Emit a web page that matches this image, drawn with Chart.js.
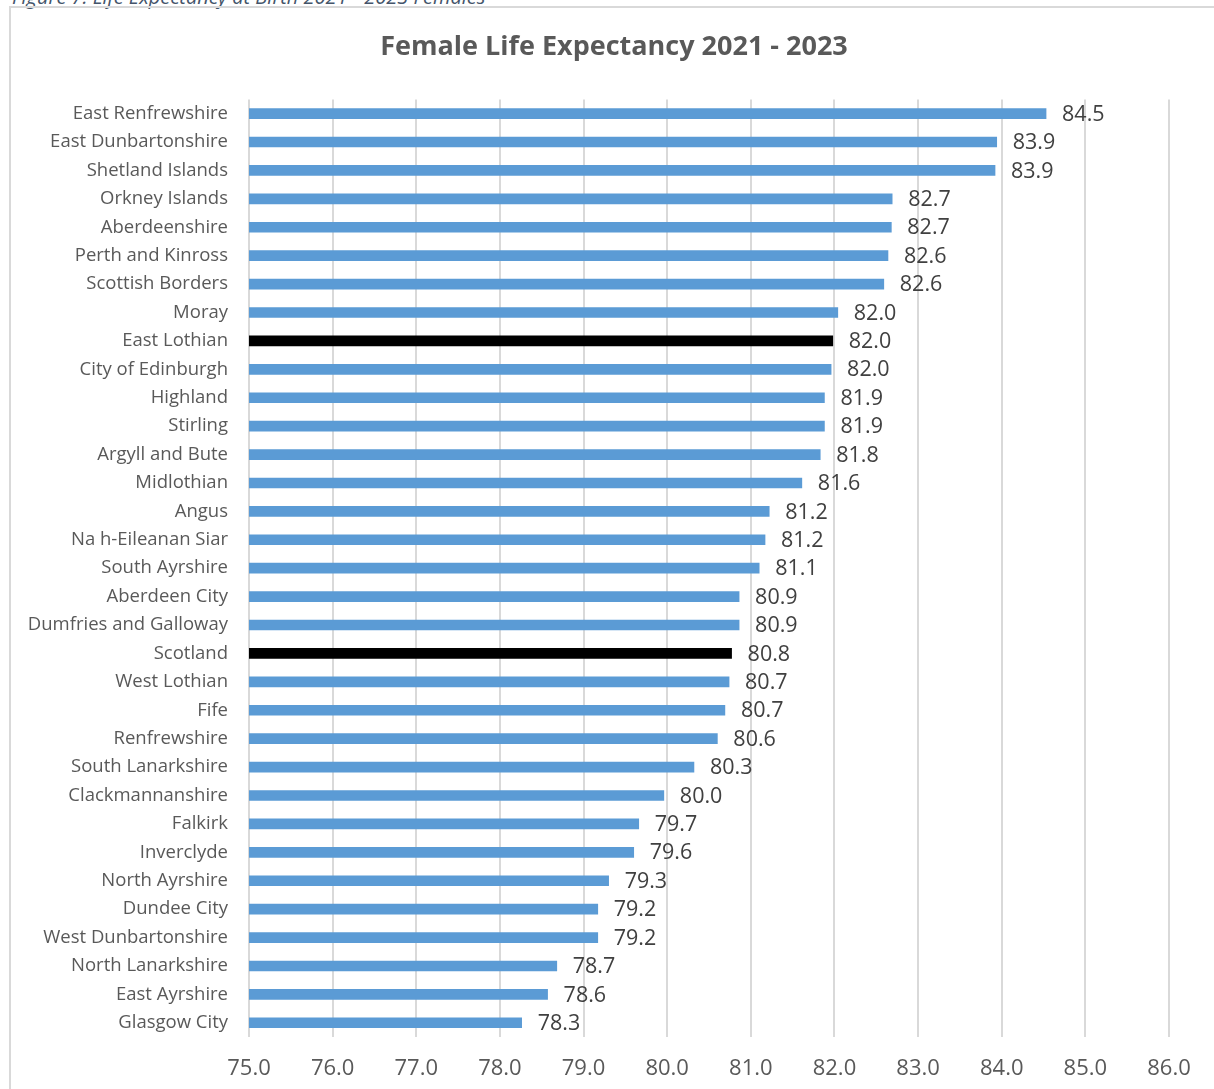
<!DOCTYPE html>
<html>
<head>
<meta charset="utf-8">
<script src="https://cdn.jsdelivr.net/npm/chart.js@4.4.1/dist/chart.umd.min.js"></script>
<style>
  body { margin: 0; background: #fff; overflow: hidden; }
  #caption { position: absolute; left: 12px; top: -17px; font: italic 20px "Open Sans", sans-serif; color: #44546a; white-space: nowrap; }
  #frame { position: absolute; left: 9px; top: 6px; width: 1300px; height: 1200px; border: 2px solid #d9d9d9; }
  #wrap { position: absolute; left: 0; top: 0; width: 1214px; height: 1089px; }
</style>
</head>
<body>
<div id="caption">Figure 7: Life Expectancy at Birth 2021 - 2023 Females</div>
<div id="frame"></div>
<div id="wrap"><canvas id="mycanvas"></canvas></div>
<script>
var areas = ["East Renfrewshire", "East Dunbartonshire", "Shetland Islands", "Orkney Islands",
  "Aberdeenshire", "Perth and Kinross", "Scottish Borders", "Moray", "East Lothian",
  "City of Edinburgh", "Highland", "Stirling", "Argyll and Bute", "Midlothian", "Angus",
  "Na h-Eileanan Siar", "South Ayrshire", "Aberdeen City", "Dumfries and Galloway", "Scotland",
  "West Lothian", "Fife", "Renfrewshire", "South Lanarkshire", "Clackmannanshire", "Falkirk",
  "Inverclyde", "North Ayrshire", "Dundee City", "West Dunbartonshire", "North Lanarkshire",
  "East Ayrshire", "Glasgow City"];
var lifeExp = [84.53, 83.94, 83.92, 82.69, 82.68, 82.64, 82.59, 82.04, 81.98,
  81.96, 81.88, 81.88, 81.83, 81.61, 81.22,
  81.17, 81.10, 80.86, 80.86, 80.77,
  80.74, 80.69, 80.60, 80.32, 79.96, 79.66,
  79.60, 79.30, 79.17, 79.17, 78.68,
  78.57, 78.26];
var highlighted = ["East Lothian", "Scotland"];
var xTicks = [75, 76, 77, 78, 79, 80, 81, 82, 83, 84, 85, 86];

var barColours = [];
for (var i in areas) {
  barColours.push(highlighted.indexOf(areas[i]) >= 0 ? "#000000" : "#5b9bd5");
}

// write the value just past the end of each bar
var valueLabels = {
  id: "valueLabels",
  afterDatasetsDraw: function(chart) {
    var ctx = chart.ctx;
    var meta = chart.getDatasetMeta(0);
    ctx.save();
    ctx.font = "21.5px 'Open Sans', sans-serif";
    ctx.fillStyle = "#404040";
    ctx.textAlign = "left";
    ctx.textBaseline = "middle";
    meta.data.forEach(function(bar, i) {
      ctx.fillText(lifeExp[i].toFixed(1), bar.x + 16, bar.y + 1);
    });
    ctx.restore();
  }
};

// centre the title over the framed box rather than the canvas
var titleShift = {
  id: "titleShift",
  afterLayout: function(chart) {
    if (chart.titleBlock) chart.titleBlock.left = 59;
  }
};

var chartdata = {
  labels: areas,
  datasets: [{
    label: "Female life expectancy",
    data: lifeExp,
    backgroundColor: barColours,
    borderWidth: 0,
    barThickness: 10
  }]
};

var ctx = document.getElementById("mycanvas");
var BarGraph = new Chart(ctx, {
  type: "bar",
  data: chartdata,
  plugins: [valueLabels, titleShift],
  options: {
    indexAxis: "y",
    responsive: true,
    maintainAspectRatio: false,
    animation: false,
    layout: { padding: { left: 0, right: 45, top: 0, bottom: 0 } },
    plugins: {
      legend: { display: false },
      tooltip: { enabled: false },
      title: {
        display: true,
        text: "Female Life Expectancy 2021 - 2023",
        color: "#595959",
        font: { family: "'Open Sans', sans-serif", size: 27, weight: "bold" },
        padding: { top: 31, bottom: 36 }
      }
    },
    scales: {
      x: {
        min: 75,
        max: 86,
        afterBuildTicks: function(scale) {
          scale.ticks = xTicks.map(function(v) { return { value: v }; });
        },
        afterFit: function(scale) { scale.height = 52; },
        grid: { color: "#d9d9d9", lineWidth: 2, drawTicks: false },
        border: { display: false },
        ticks: {
          padding: 19,
          color: "#595959",
          font: { family: "'Open Sans', sans-serif", size: 22 },
          callback: function(v) { return Number(v).toFixed(1); }
        }
      },
      y: {
        afterFit: function(scale) { scale.width = 249; },
        grid: { display: false, drawTicks: false },
        border: { display: false },
        ticks: {
          autoSkip: false,
          padding: 21,
          color: "#595959",
          font: { family: "'Open Sans', sans-serif", size: 18.5 }
        }
      }
    }
  }
});
</script>
</body>
</html>
